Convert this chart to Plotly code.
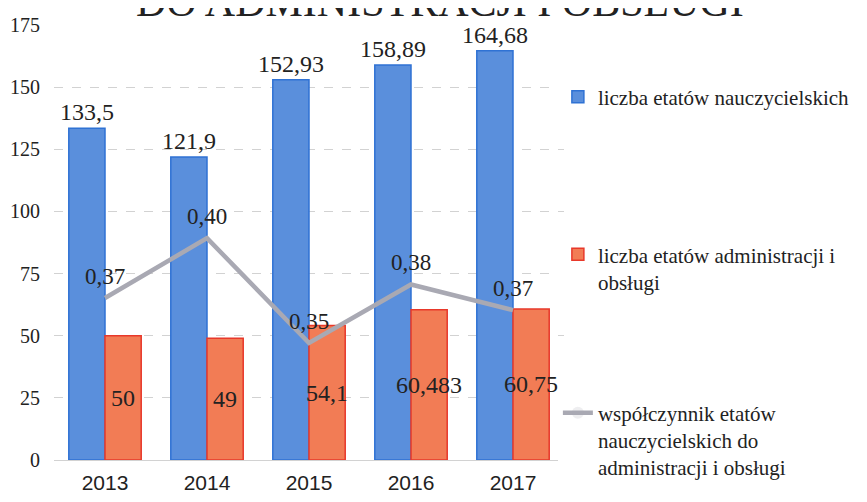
import plotly.graph_objects as go

years = ["2013", "2014", "2015", "2016", "2017"]
teachers = [133.5, 121.9, 152.93, 158.89, 164.68]
admin = [50, 49, 54.1, 60.483, 60.75]
ratio = [0.3745, 0.402, 0.3538, 0.3807, 0.3689]

name_teachers = "liczba etatów nauczycielskich"
name_admin = "liczba etatów administracji i<br>obsługi"
name_ratio = "współczynnik etatów<br>nauczycielskich do<br>administracji i obsługi"
title_text = "DO ADMINISTRACJI I OBSŁUGI"

serif = "Liberation Serif"
sans = "Liberation Sans"
ink = "#222222"

def fmt(v):
    return str(v).replace(".", ",")

fig = go.Figure()
fig.add_trace(go.Bar(
    x=years, y=teachers, name=name_teachers,
    marker=dict(color="#5a8fdc", line=dict(color="#2f72d4", width=1.5)),
    text=[fmt(v) for v in teachers], textposition="outside", textangle=0,
    textfont=dict(family=serif, size=24, color=ink),
    cliponaxis=False, legend="legend",
))
fig.add_trace(go.Bar(
    x=years, y=admin, name=name_admin,
    marker=dict(color="#f27c55", line=dict(color="#e8382a", width=1.5)),
    text=[fmt(v) for v in admin], textposition="inside", insidetextanchor="middle",
    textangle=0, textfont=dict(family=serif, size=24, color=ink),
    cliponaxis=False, legend="legend2",
))
fig.add_trace(go.Scatter(
    x=years, y=ratio, name=name_ratio, yaxis="y2", mode="lines+markers+text",
    line=dict(color="#a9a9b3", width=4.5),
    marker=dict(size=12, opacity=0, color="#a9a9b3"),
    text=[f"{v:.2f}".replace(".", ",") for v in ratio], textposition="top center",
    textfont=dict(family=serif, size=23, color=ink),
    cliponaxis=False, legend="legend3",
))

grid = dict(showgrid=True, gridcolor="#d2d2d2", griddash="dash", gridwidth=1)
legfont = dict(family=serif, size=21, color=ink)

fig.update_layout(
    width=867, height=502,
    font=dict(family=serif, color=ink),
    margin=dict(l=46, r=311, t=17, b=50, autoexpand=False),
    paper_bgcolor="white", plot_bgcolor="white",
    barmode="group", bargap=0.29, bargroupgap=0,
    uniformtext=dict(mode=False),
    xaxis=dict(tickfont=dict(family=sans, size=21, color=ink), showline=False,
               ticklabelstandoff=8, automargin=False),
    yaxis=dict(range=[0, 175], tickvals=[0, 25, 50, 75, 100, 125, 150, 175],
               tickfont=dict(family=serif, size=20, color=ink),
               zeroline=True, zerolinecolor="#d2d2d2", zerolinewidth=1,
               ticklabelstandoff=13, automargin=False, **grid),
    yaxis2=dict(range=[0.30, 0.50], overlaying="y", side="right", visible=False),
    legend=dict(x=0.988, y=0.834, xanchor="left", yanchor="middle",
                font=legfont, valign="top"),
    legend2=dict(x=0.988, y=0.441, xanchor="left", yanchor="middle",
                 font=legfont, valign="top"),
    legend3=dict(x=0.988, y=0.046, xanchor="left", yanchor="middle",
                 font=legfont, valign="top"),
    annotations=[dict(text=title_text, xref="paper", yref="paper", x=0.757, y=1.052,
                      xanchor="center", yanchor="middle", showarrow=False,
                      font=dict(family=serif, size=42, color=ink))],
    showlegend=True,
)
fig.update_traces(selector=dict(type="bar"), constraintext="none")

fig.write_html("out.html")
